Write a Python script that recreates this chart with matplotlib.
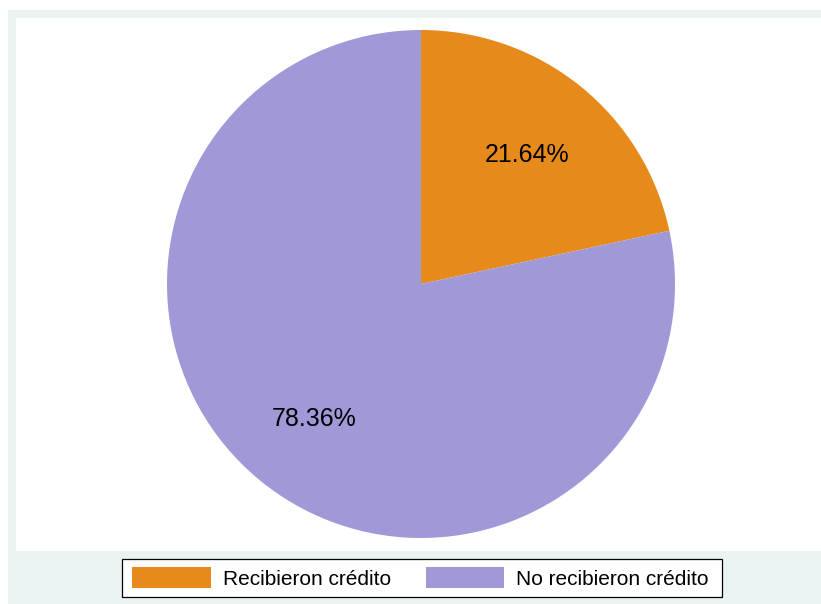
import matplotlib
matplotlib.use("Agg")
import matplotlib.pyplot as plt
from matplotlib.patches import Rectangle, Patch

categories = ["Recibieron crédito", "No recibieron crédito"]
values = [21.64, 78.36]
colors = ["#E68A1C", "#A099D7"]

plt.rcParams['font.family'] = ['Liberation Sans', 'DejaVu Sans']

W, H = 821, 604
fig = plt.figure(figsize=(W / 100, H / 100), dpi=100)
fig.patch.set_facecolor("white")

# background panels (outer grey, inner white)
fig.patches.append(Rectangle((8 / W, 0), 1 - 8 / W, 1 - 10 / H, transform=fig.transFigure,
                             facecolor="#EAF2F3", edgecolor="none", zorder=-2))
fig.patches.append(Rectangle((16 / W, (H - 551) / H), 1 - 16 / W, (551 - 18) / H,
                             transform=fig.transFigure, facecolor="white", edgecolor="none", zorder=-1))
# legend frame
fig.patches.append(Rectangle((121.5 / W, (H - 597) / H), (722 - 121.5) / W, (597 - 559) / H,
                             transform=fig.transFigure, facecolor="white", edgecolor="black",
                             linewidth=0.9, zorder=1.5))

cx, cy, r = 421, 284, 254
ax = fig.add_axes([(cx - r) / W, (H - cy - r) / H, 2 * r / W, 2 * r / H])
ax.set_zorder(1)
ax.set_facecolor("none")
wedges, texts, autotexts = ax.pie(values, colors=colors, startangle=90, counterclock=False,
                                  autopct='%.2f%%', pctdistance=0.65, radius=1,
                                  wedgeprops=dict(linewidth=0),
                                  textprops=dict(fontsize=18, color="black"))
# fine placement of the percentage labels (Stata-like)
autotexts[0].set_position((0.419, 0.506))
autotexts[1].set_position((-0.419, -0.53))
ax.set_xlim(-1, 1)
ax.set_ylim(-1, 1)
ax.set_aspect("equal")
ax.axis("off")

handles = [Patch(facecolor=c, edgecolor="none", label=l) for c, l in zip(colors, categories)]
leg = fig.legend(handles=handles, ncol=2, loc="center",
                 bbox_to_anchor=((125 + 716) / 2 / W, 1 - 578 / H),
                 fontsize=15, frameon=False,
                 handlelength=3.75, handleheight=1.15, handletextpad=0.6,
                 columnspacing=1.65, borderpad=0.3, borderaxespad=0)
leg.set_zorder(2)

fig.savefig("out.png", dpi=100)
